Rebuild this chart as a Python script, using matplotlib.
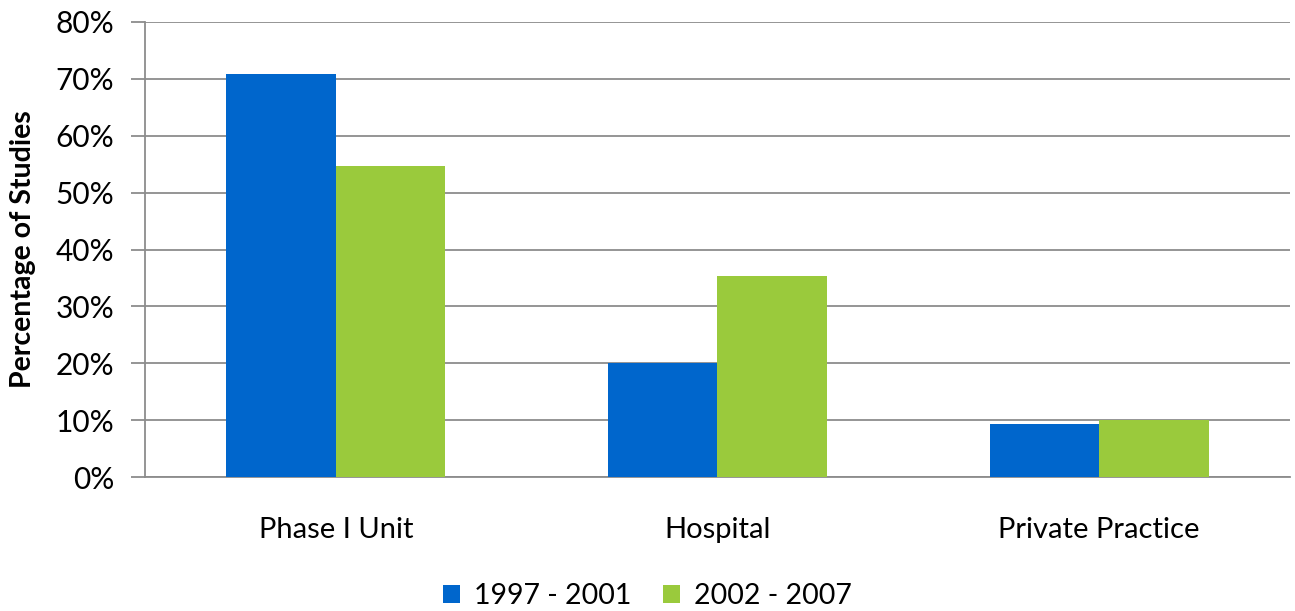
import matplotlib.pyplot as plt
import numpy as np

# data
categories = ["Phase I Unit", "Hospital", "Private Practice"]
series_names = ["1997 - 2001", "2002 - 2007"]
period1 = [70.9, 20.0, 9.3]
period2 = [54.7, 35.3, 10.0]
colors = ["#0066CC", "#9ACA3C"]

plt.rcParams['font.family'] = ['Lato', 'DejaVu Sans']

fig = plt.figure(figsize=(12.95, 6.11), dpi=100)
ax = fig.add_axes([0.112, 0.219, 0.884, 0.745])

x = np.arange(len(categories))
w = 0.287
ax.bar(x - w / 2, period1, w, color=colors[0], label=series_names[0], zorder=3)
ax.bar(x + w / 2, period2, w, color=colors[1], label=series_names[1], zorder=3)

ax.set_xlim(-0.5, len(categories) - 0.5)
ax.set_ylim(0, 80)
ax.set_yticks(range(0, 81, 10))
ax.set_yticklabels([f"{v}%" for v in range(0, 81, 10)])
ax.set_xticks(x)
ax.set_xticklabels(categories)

ax.yaxis.grid(True, color="#8c8c8c", linewidth=1.3, zorder=0)
for s in ["top", "right"]:
    ax.spines[s].set_visible(False)
for s in ["left", "bottom"]:
    ax.spines[s].set_color("#8c8c8c")
    ax.spines[s].set_linewidth(1.3)

ax.tick_params(axis="y", labelsize=21.5, length=10, color="#8c8c8c", width=1.3, pad=12)
ax.tick_params(axis="x", labelsize=21, length=0, pad=29)
ax.set_ylabel("Percentage of Studies", fontsize=20.5, fontweight="bold", labelpad=14)

fig.legend(*ax.get_legend_handles_labels(), loc="center", bbox_to_anchor=(0.5, 0.024),
           ncol=2, frameon=False, fontsize=20.5, handlelength=0.6, handleheight=0.6,
           handletextpad=0.5, columnspacing=1.1, borderpad=0)

fig.savefig("out.png", dpi=100)
